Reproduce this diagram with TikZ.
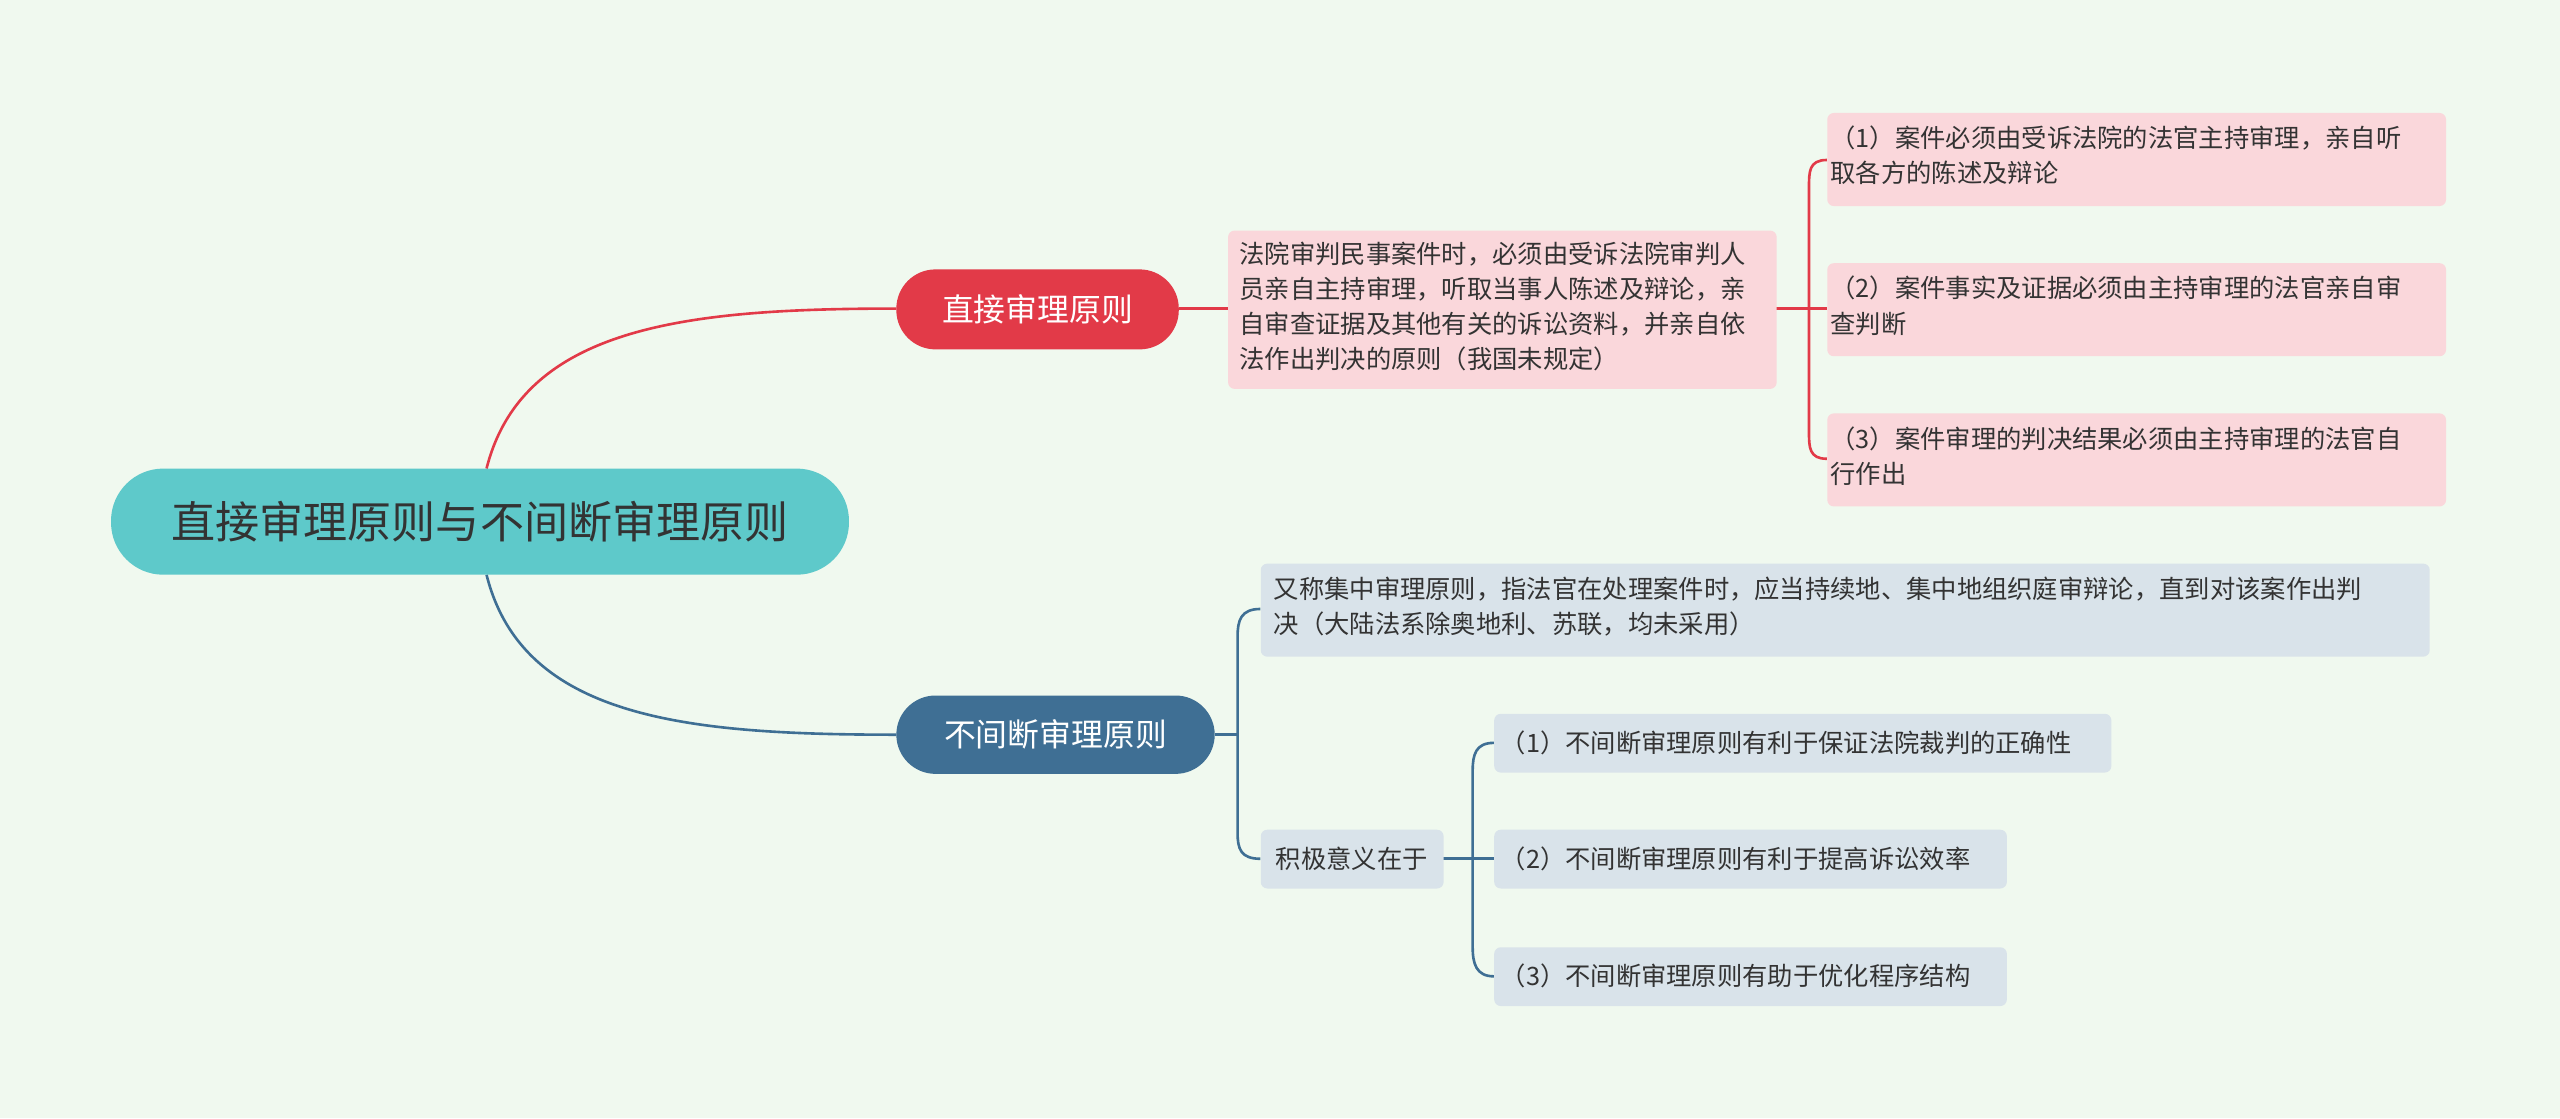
\documentclass[tikz,border=0pt]{standalone}
\usepackage{fontspec}
\setmainfont{Noto Sans CJK SC}
\definecolor{bg}{HTML}{F0F9EF}
\definecolor{rootc}{HTML}{5EC9CA}
\definecolor{redc}{HTML}{E23A48}
\definecolor{bluec}{HTML}{3F6F94}
\definecolor{pinkc}{HTML}{FAD7DB}
\definecolor{grayc}{HTML}{D9E3EA}
\definecolor{txt}{HTML}{333333}
\tikzset{
 box/.style={rounded corners=4pt,inner sep=0pt,anchor=north west,text=txt,font=\fontsize{15.5}{21}\selectfont,align=left},
 pbox/.style={box,fill=pinkc},
 gbox/.style={box,fill=grayc},
 tx/.style={anchor=north west,inner sep=0pt,text=txt,font=\fontsize{15.5}{21.5}\selectfont,align=left},
 rl/.style={draw=redc,line width=1.6pt},
 bl/.style={draw=bluec,line width=1.6pt}
}
\begin{document}
\begin{tikzpicture}[x=1pt,y=-1pt]
\fill[bg] (0,0) rectangle (1568,685);
\useasboundingbox (0,0) rectangle (1568,685);
% connectors
\draw[rl] (298,287) .. controls (320,200) and (420,189) .. (549,189);
\draw[bl] (298,352) .. controls (320,440) and (420,450) .. (549,450);
\draw[rl] (722,189) -- (752,189);
\draw[rl] (1088,189) -- (1108,189);
\draw[rl] (1119,98) .. controls (1108,98) and (1108,105) .. (1108,115) -- (1108,264) .. controls (1108,274) and (1108,281) .. (1119,281);
\draw[rl] (1108,189) -- (1119,189);
\draw[bl] (744,450) -- (758,450);
\draw[bl] (772,373) .. controls (760,373) and (758,380) .. (758,390) -- (758,510) .. controls (758,520) and (760,526) .. (772,526);
\draw[bl] (884,526) -- (902,526);
\draw[bl] (915,455) .. controls (904,455) and (902,462) .. (902,472) -- (902,580) .. controls (902,590) and (904,598) .. (915,598);
\draw[bl] (902,526) -- (915,526);
% root
\node[fill=rootc,rounded corners=32pt,minimum width=452pt,minimum height=65pt,inner sep=0pt,text=txt,font=\fontsize{27}{30}\selectfont] (root) at (294,319.5) {直接审理原则与不间断审理原则};
\node[fill=redc,rounded corners=24pt,minimum width=173pt,minimum height=49pt,inner sep=0pt,text=white,font=\fontsize{19.5}{22}\selectfont] (a) at (635.5,189.5) {直接审理原则};
\node[fill=bluec,rounded corners=24pt,minimum width=195pt,minimum height=48pt,inner sep=0pt,text=white,font=\fontsize{19.5}{22}\selectfont] (b) at (646.5,450) {不间断审理原则};
% A branch
\node[pbox,minimum width=336pt,minimum height=97pt] (ad) at (752,141) {};
\node[tx] at (759,148) {法院审判民事案件时，必须由受诉法院审判人\\员亲自主持审理，听取当事人陈述及辩论，亲\\自审查证据及其他有关的诉讼资料，并亲自依\\法作出判决的原则（我国未规定）};
\foreach \y/\t [count=\i] in {69/{（1）案件必须由受诉法院的法官主持审理，亲自听\\取各方的陈述及辩论},161/{（2）案件事实及证据必须由主持审理的法官亲自审\\查判断},253/{（3）案件审理的判决结果必须由主持审理的法官自\\行作出}}{
 \node[pbox,minimum width=379pt,minimum height=57pt] (a\i) at (1119,\y) {};
 \node[tx] at (1121,\y+8) {\t};
}
% B branch
\node[gbox,minimum width=716pt,minimum height=57pt] (b1) at (772,345) {};
\node[tx] at (780,353) {又称集中审理原则，指法官在处理案件时，应当持续地、集中地组织庭审辩论，直到对该案作出判\\决（大陆法系除奥地利、苏联，均未采用）};
\node[gbox,minimum width=112pt,minimum height=36pt,anchor=north west] (b2) at (772,508) {};
\node[text=txt,font=\fontsize{15.5}{18}\selectfont] at (828,526) {积极意义在于};
\foreach \y/\w/\t [count=\i] in {437/378/（1）不间断审理原则有利于保证法院裁判的正确性,508/314/（2）不间断审理原则有利于提高诉讼效率,580/314/（3）不间断审理原则有助于优化程序结构}{
 \node[gbox,minimum width=\w pt,minimum height=36pt] (c\i) at (915,\y) {};
 \node[anchor=west,inner sep=0pt,text=txt,font=\fontsize{15.5}{18}\selectfont] at (919,\y+18) {\t};
}
\end{tikzpicture}
\end{document}
